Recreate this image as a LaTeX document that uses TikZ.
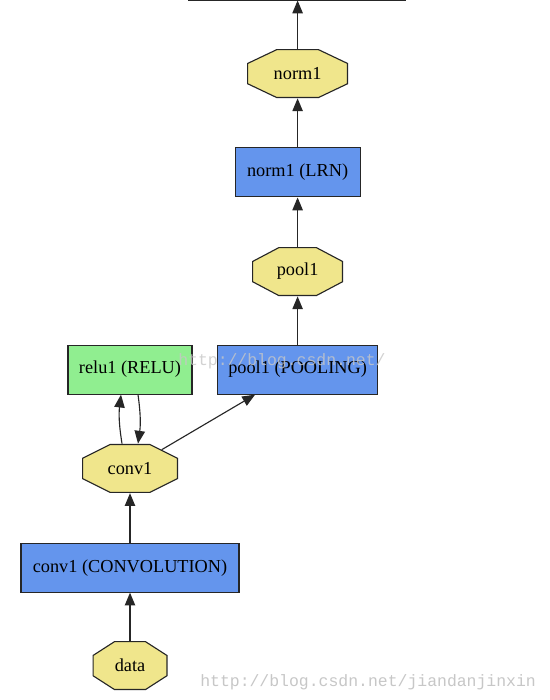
\documentclass[tikz,border=0pt]{standalone}
\usepackage{fontspec}
\setmainfont{Liberation Serif}
\newfontfamily\markfont{Liberation Mono}
\usetikzlibrary{arrows.meta}

\begin{document}
\begin{tikzpicture}[>={Triangle[length=0.32cm,width=0.26cm]}]

	\def\rowh{1.225}
	\def\colA{3.25}
	\def\colB{7.44}

	% Colours
	\definecolor{layercolor}{HTML}{6495ED}
	\definecolor{blobcolor}{HTML}{F0E68C}
	\definecolor{relucolor}{HTML}{90EE90}
	\colorlet{framecolor}{black!85}
	\colorlet{markcolor}{black!22}

	% Styles
	\tikzstyle{layer}=[draw=framecolor, line width=0.8pt, fill=layercolor, inner sep=0pt,
		minimum height=\rowh cm, font=\fontsize{13}{15}\selectfont]
	\tikzset{blob/.style={draw=none, inner sep=0pt, minimum width=#1 cm, minimum height=\rowh cm,
		font=\fontsize{13}{15}\selectfont,
		path picture={
			\filldraw[fill=blobcolor, draw=framecolor, line width=0.8pt]
				(path picture bounding box.center) ++({-0.207*#1},{\rowh/2-0.014})
				-- ++({0.414*#1},0)
				-- ++({0.293*#1-0.014},{-0.293*\rowh+0.014})
				-- ++(0,{-0.414*\rowh})
				-- ++({-0.293*#1+0.014},{-0.293*\rowh+0.014})
				-- ++({-0.414*#1},0)
				-- ++({-0.293*#1+0.014},{0.293*\rowh-0.014})
				-- ++(0,{0.414*\rowh}) -- cycle;
		}}}
	\tikzstyle{edge}=[->, draw=framecolor, line width=0.8pt]

	% Page
	\fill[white] (0,0) rectangle (13.725,-17.5);
	\useasboundingbox (0,0) rectangle (13.725,-17.5);

	% Blobs and layers
	\node[blob=1.875] (data) at (\colA,-16.64) {data};
	\node[layer, minimum width=5.45cm] (convbox) at (\colA,-14.19) {conv1 (CONVOLUTION)};
	\node[blob=2.4] (conv1) at (\colA,-11.71) {conv1};
	\node[layer, fill=relucolor, minimum width=3.1cm] (relubox) at (\colA,-9.24) {relu1 (RELU)};
	\node[layer, minimum width=4.0cm] (poolbox) at (\colB,-9.24) {pool1 (POOLING)};
	\node[blob=2.275] (pool1) at (\colB,-6.79) {pool1};
	\node[layer, minimum width=3.125cm] (normbox) at (\colB,-4.31) {norm1 (LRN)};
	\node[blob=2.525] (norm1) at (\colB,-1.84) {norm1};

	% Cut-off box at the top
	\coordinate (topL) at (4.7,-0.012);
	\coordinate (topR) at (10.15,-0.012);
	\coordinate (top) at (\colB,-0.012);
	\draw[framecolor, line width=0.8pt] (topL) -- (topR);

	% Edges
	\draw[edge] (data) -- (convbox);
	\draw[edge] (convbox) -- (conv1);
	\draw[edge] ([xshift=-0.2cm]conv1.north) to[bend left=8] ([xshift=-0.225cm]relubox.south);
	\draw[edge] ([xshift=0.2cm]relubox.south) to[bend left=8] ([xshift=0.2cm]conv1.north);
	\draw[edge, shorten <=-0.3cm] (conv1) -- (poolbox);
	\draw[edge] (poolbox) -- (pool1);
	\draw[edge] (pool1) -- (normbox);
	\draw[edge] (normbox) -- (norm1);
	\draw[edge] (norm1) -- (top);

	% Watermarks
	\node[anchor=west, inner sep=0pt, text=markcolor, opacity=0.8, font=\markfont\fontsize{11.7}{13}\selectfont]
		(markmid) at (4.45,-9.03) {http://blog.csdn.net/};
	\node[anchor=west, inner sep=0pt, text=markcolor, font=\markfont\fontsize{11.7}{13}\selectfont]
		(markbot) at (5.0,-17.05) {http://blog.csdn.net/jiandanjinxin};

\end{tikzpicture}
\end{document}
